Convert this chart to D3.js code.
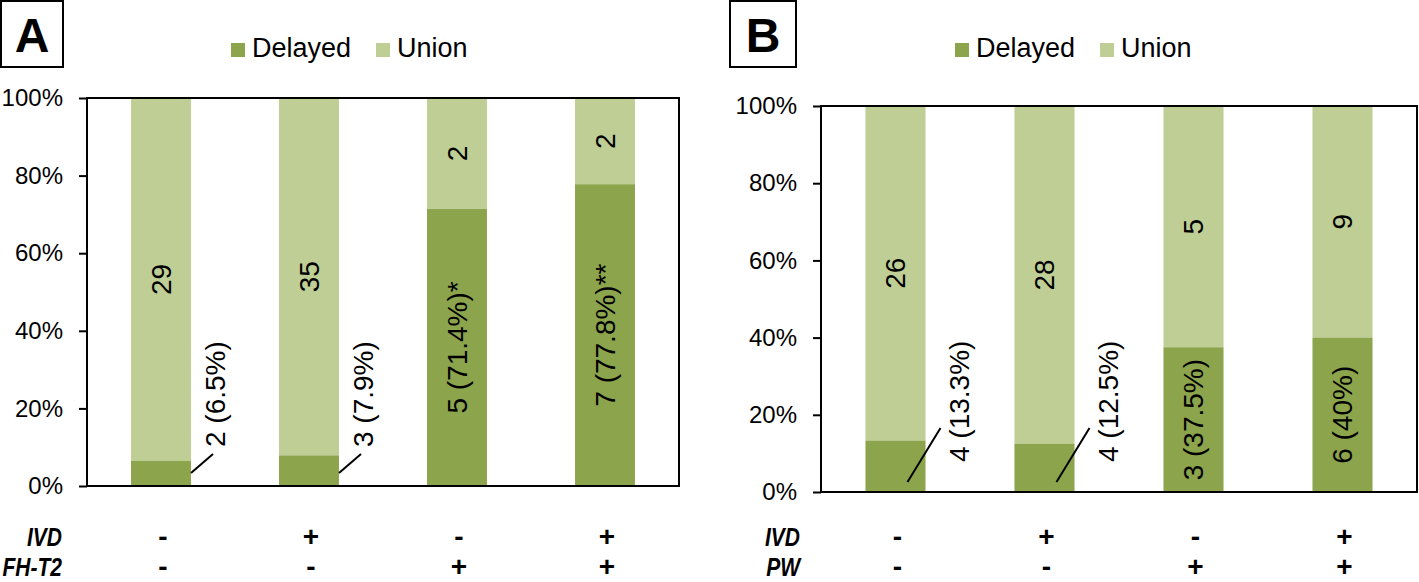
<!DOCTYPE html>
<html><head><meta charset="utf-8">
<script src="https://cdn.jsdelivr.net/npm/d3@7"></script>
<style>
body{margin:0;background:#fff;}
text{font-family:"Liberation Sans",Arial,sans-serif;}
</style></head>
<body>
<svg id="chart" width="1419" height="582"></svg>
<script>
// ---- data ----
const categories = ["c1","c2","c3","c4"];
const seriesNames = ["Delayed","Union"];
const delayedA = [2,3,5,7];
const unionA = [29,35,2,2];
const delayedLabelsA = ["2 (6.5%)","3 (7.9%)","5 (71.4%)*","7 (77.8%)**"];
const ivdA = ["-","+","-","+"];
const fhT2A = ["-","-","+","+"];
const delayedB = [4,4,3,6];
const unionB = [26,28,5,9];
const delayedLabelsB = ["4 (13.3%)","4 (12.5%)","3 (37.5%)","6 (40%)"];
const ivdB = ["-","+","-","+"];
const pwB = ["-","-","+","+"];
const yTicks = [0,0.2,0.4,0.6,0.8,1.0];
const rowNamesA = ["IVD","FH-T2"];
const rowNamesB = ["IVD","PW"];

const colors = {Delayed:"#8ca44c", Union:"#bfce94"};
const svg = d3.select("#chart");

function panel(cfg){
  const g = svg.append("g");
  const x = d3.scaleBand().domain(categories).range([cfg.x0,cfg.x1])
      .paddingInner(cfg.pad).paddingOuter(cfg.pad/2);
  const y = d3.scaleLinear().domain([0,1]).range([cfg.y0,cfg.y1]);
  const data = categories.map((c,i)=>{
    const tot = cfg.delayed[i]+cfg.union[i];
    return {c, d:cfg.delayed[i]/tot, u:cfg.union[i], dl:cfg.delayedLabels[i]};
  });
  // bars
  g.selectAll("rect.u").data(data).join("rect")
    .attr("x",d=>x(d.c)).attr("width",x.bandwidth())
    .attr("y",y(1)).attr("height",d=>y(d.d)-y(1))
    .attr("fill",colors.Union);
  g.selectAll("rect.d").data(data).join("rect")
    .attr("x",d=>x(d.c)).attr("width",x.bandwidth())
    .attr("y",d=>y(d.d)).attr("height",d=>y(0)-y(d.d))
    .attr("fill",colors.Delayed);
  // axis
  const ax = g.append("g").attr("transform",`translate(${cfg.x0},0)`)
    .call(d3.axisLeft(y).tickValues(yTicks).tickFormat(d3.format(".0%")).tickSize(8).tickPadding(16));
  ax.select(".domain").remove();
  ax.selectAll("line").attr("stroke","#000").attr("stroke-width",2);
  ax.selectAll("text").attr("font-size",24).attr("fill","#000");
  // frame
  g.append("rect").attr("x",cfg.x0).attr("y",y(1)).attr("width",cfg.x1-cfg.x0).attr("height",y(0)-y(1))
    .attr("fill","none").attr("stroke","#000").attr("stroke-width",2);
  // union labels
  g.selectAll("text.ul").data(data).join("text")
    .attr("transform",d=>`translate(${x(d.c)+x.bandwidth()/2},${(y(1)+y(d.d))/2}) rotate(-90)`)
    .attr("text-anchor","middle").attr("dominant-baseline","central")
    .attr("font-size",28).text(d=>d.u);
  // delayed labels
  data.forEach(d=>{
    const cx = x(d.c)+x.bandwidth()/2;
    if(d.d<0.2){
      const tx = x(d.c)+x.bandwidth()+cfg.outDx;
      g.append("text")
        .attr("transform",`translate(${tx},${y(0)-cfg.outDy}) rotate(-90)`)
        .attr("text-anchor","start").attr("dominant-baseline","central")
        .attr("font-size",28).text(d.dl);
      g.append("line")
        .attr("x1",cx+cfg.l1[0]).attr("y1",y(0)-cfg.l1[1])
        .attr("x2",cx+cfg.l2[0]).attr("y2",y(0)-cfg.l2[1])
        .attr("stroke","#000").attr("stroke-width",2);
    } else {
      g.append("text")
        .attr("transform",`translate(${cx},${(y(0)+y(d.d))/2}) rotate(-90)`)
        .attr("text-anchor","middle").attr("dominant-baseline","central")
        .attr("font-size",28).text(d.dl);
    }
  });
  // bottom rows
  cfg.rows.forEach((r,ri)=>{
    g.append("text").attr("transform",`translate(${cfg.rowX},${cfg.rowY[ri]}) scale(1,1.22)`)
      .attr("text-anchor","end")
      .attr("font-size",21).attr("font-weight","bold").attr("font-style","italic").text(cfg.rowNames[ri]);
    g.selectAll(null).data(categories).join("text")
      .attr("x",c=>x(c)+x.bandwidth()/2+2).attr("y",cfg.rowY[ri])
      .attr("text-anchor","middle").attr("font-size",28).attr("font-weight","bold")
      .text((c,i)=>r[i]);
  });
  // legend
  const lg = g.append("g").attr("transform",`translate(${cfg.legX},0)`);
  let off = 0;
  seriesNames.forEach((s,i)=>{
    lg.append("rect").attr("x",off).attr("y",43).attr("width",14).attr("height",14).attr("fill",colors[s]);
    lg.append("text").attr("x",off+21).attr("y",57).attr("font-size",27).text(s);
    off += (i===0?145:0);
  });
  // panel letter box
  g.append("rect").attr("x",cfg.boxX+1).attr("y",1).attr("width",cfg.boxW).attr("height",66)
    .attr("fill","none").attr("stroke","#000").attr("stroke-width",2);
  g.append("text").attr("x",cfg.boxX+1+cfg.boxW/2).attr("y",52).attr("text-anchor","middle")
    .attr("font-size",48).attr("font-weight","bold").text(cfg.letter);
}

panel({x0:87,x1:679,y0:486,y1:98,pad:0.595,
  delayed:delayedA,union:unionA,delayedLabels:delayedLabelsA,
  rows:[ivdA,fhT2A],rowNames:rowNamesA,rowX:62,rowY:[546,576],
  outDx:25,outDy:39,l1:[30,13],l2:[52,32],
  legX:231,boxX:0,boxW:62,letter:"A"});
panel({x0:821,x1:1417,y0:492,y1:106,pad:0.597,
  delayed:delayedB,union:unionB,delayedLabels:delayedLabelsB,
  rows:[ivdB,pwB],rowNames:rowNamesB,rowX:800,rowY:[546,576],
  outDx:34,outDy:30,l1:[12,10],l2:[45,64],
  legX:955,boxX:729,boxW:66,letter:"B"});
</script>
</body></html>
